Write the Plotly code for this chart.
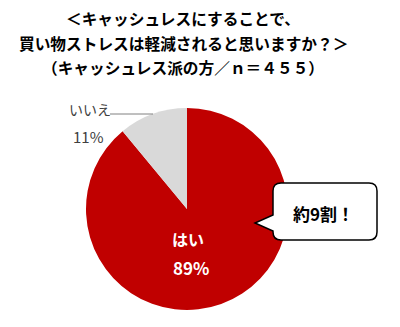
import plotly.graph_objects as go

labels = ["はい", "いいえ"]
values = [89, 11]
colors = ["#C00000", "#D9D9D9"]
title_lines = ["＜キャッシュレスにすることで、",
               "買い物ストレスは軽減されると思いますか？＞",
               "（キャッシュレス派の方／ｎ＝４５５）"]
callout_text = "約9割！"

W, H = 400, 327
def px(x): return x / W
def py(y): return 1 - y / H

FONT = "Noto Sans CJK JP, sans-serif"

fig = go.Figure(go.Pie(
    labels=labels, values=values, sort=False, direction="clockwise", rotation=0,
    marker=dict(colors=colors, line=dict(width=0)),
    textinfo="none", hoverinfo="label+percent", showlegend=False,
    domain=dict(x=[px(86), px(288)], y=[py(310), py(108)]),
))

def A(x, y, text, size, color):
    return dict(x=px(x), y=py(y), xref="paper", yref="paper", text=text,
                showarrow=False, font=dict(family=FONT, size=size, color=color),
                xanchor="center", yanchor="middle")

ann = []
for t, y in zip(title_lines, [18, 43, 67]):
    ann.append(A(183, y, f"<b>{t}</b>", 15.7, "#000000"))

ann.append(A(188, 239, f"<b>{labels[0]}</b>", 16, "white"))
ann.append(A(191, 267, f"<b>{values[0]}%</b>", 17, "white"))
ann.append(A(90, 109, labels[1], 14, "#404040"))
ann.append(A(88, 136, f"{values[1]}%", 15, "#404040"))
ann.append(A(323, 213, f"<b>{callout_text}</b>", 17, "#000000"))

shapes = [dict(type="line", xref="paper", yref="paper", x0=px(110), y0=py(114), x1=px(153), y1=py(114),
               line=dict(color="#808080", width=1))]

l, r, t, b, rad = 273, 377, 183, 240, 8
path = (f"M {px(l+rad)},{py(t)} L {px(r-rad)},{py(t)} Q {px(r)},{py(t)} {px(r)},{py(t+rad)} "
        f"L {px(r)},{py(b-rad)} Q {px(r)},{py(b)} {px(r-rad)},{py(b)} "
        f"L {px(l+rad)},{py(b)} Q {px(l)},{py(b)} {px(l)},{py(b-rad)} "
        f"L {px(l)},{py(231)} L {px(255)},{py(223)} L {px(l)},{py(215)} "
        f"L {px(l)},{py(t+rad)} Q {px(l)},{py(t)} {px(l+rad)},{py(t)} Z")
shapes.append(dict(type="path", xref="paper", yref="paper", path=path,
                   fillcolor="white", line=dict(color="#000000", width=1.5), layer="above"))

fig.update_layout(width=W, height=H, margin=dict(l=0, r=0, t=0, b=0),
                  paper_bgcolor="white", plot_bgcolor="white",
                  annotations=ann, shapes=shapes)
fig.write_html("out.html")
